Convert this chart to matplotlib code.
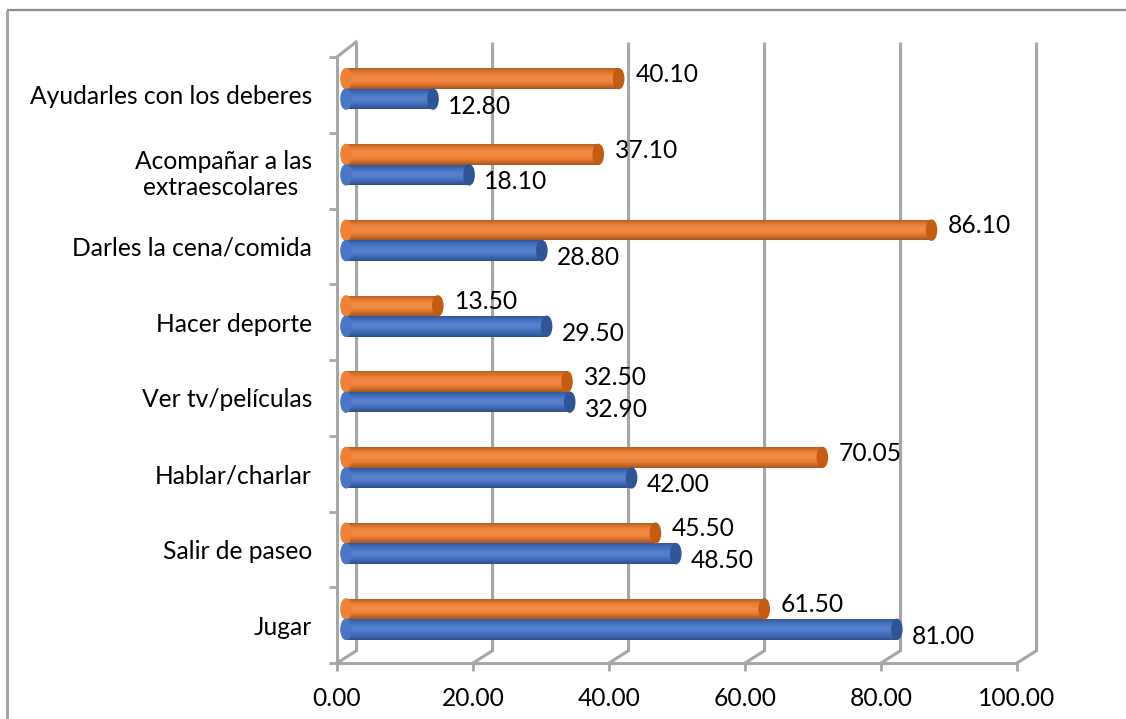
import matplotlib
matplotlib.use("Agg")
import matplotlib.pyplot as plt
from matplotlib.patches import Ellipse
import numpy as np

plt.rcParams['font.family'] = ['Lato', 'DejaVu Sans']

# ---------------- data ----------------
categories = ["Jugar", "Salir de paseo", "Hablar/charlar", "Ver tv/películas",
              "Hacer deporte", "Darles la cena/comida",
              "Acompañar a las\nextraescolares ", "Ayudarles con los deberes"]
serie_azul = [81.00, 48.50, 42.00, 32.90, 29.50, 28.80, 18.10, 12.80]
serie_naranja = [61.50, 45.50, 70.05, 32.50, 13.50, 86.10, 37.10, 40.10]
x_ticks = [0, 20, 40, 60, 80, 100]

W, H = 1126, 719
fig = plt.figure(figsize=(W / 100, H / 100), dpi=100)

def rect(x0, y0, x1, y1):
    return [x0 / W, 1 - y1 / H, (x1 - x0) / W, (y1 - y0) / H]

GRID = "#A6A6A6"
FS = 17.7

# ---------------- background frame (3D walls) ----------------
bg = fig.add_axes([0, 0, 1, 1], zorder=0)
bg.set_xlim(0, W)
bg.set_ylim(H, 0)
bg.axis("off")
# chart outer border (top & left)
bg.plot([7, W + 5], [10, 10], color="#8C8C8C", lw=1.6, solid_capstyle="butt")
bg.plot([7, 7], [10, H + 5], color="#A6A6A6", lw=2.2, solid_capstyle="butt")

fx0, fx1, fy_top, fy_bot = 337, 1017, 57, 663     # front plane
dx, dy = 19, -12                                  # depth offset
for v in x_ticks:
    xf = fx0 + (fx1 - fx0) * v / 100
    xb = xf + dx
    bg.plot([xb, xb], [fy_top + dy - 3, fy_bot + dy], color=GRID, lw=2.2,
            solid_capstyle="butt")
    bg.plot([xb, xf], [fy_bot + dy, fy_bot], color=GRID, lw=2.2)
# top-left diagonal
bg.plot([fx0, fx0 + dx], [fy_top, fy_top + dy - 3], color=GRID, lw=2.2)

# ---------------- front axes (labels, floor) ----------------
n = len(categories)
axf = fig.add_axes(rect(fx0, fy_top, fx1, fy_bot), zorder=1)
axf.patch.set_alpha(0)
axf.set_xlim(0, 100)
axf.set_ylim(-0.5, n - 0.5)
for s in ["top", "right"]:
    axf.spines[s].set_visible(False)
for s in ["left", "bottom"]:
    axf.spines[s].set_color(GRID)
    axf.spines[s].set_linewidth(2.2)
axf.set_xticks(x_ticks)
axf.set_xticklabels([f"{v:.2f}" for v in x_ticks], fontsize=FS)
axf.tick_params(axis="x", length=6, width=2, color=GRID, pad=11)
axf.set_yticks(range(n))
axf.set_yticklabels(categories, fontsize=FS, multialignment="center")
axf.set_yticks(np.arange(-0.5, n, 1.0), minor=True)
axf.tick_params(axis="y", which="major", length=0, pad=18)
axf.tick_params(axis="y", which="minor", length=6, width=2, color=GRID)

# ---------------- bars axes (mid depth) ----------------
bx0 = 346
axb = fig.add_axes(rect(bx0, fy_top - 6, bx0 + 680, fy_bot - 6), zorder=2)
axb.patch.set_alpha(0)
axb.set_xlim(0, 100)
axb.set_ylim(-0.5, n - 0.5)
axb.axis("off")

bar_h = 0.27
y = np.arange(n)

def shade(base, f):
    base = np.array(matplotlib.colors.to_rgb(base))
    if f >= 1:
        return tuple(np.clip(base + (1 - base) * (f - 1), 0, 1))
    return tuple(base * f)

def cylinder(ycent, vals, base, cap):
    nb = 20
    for k in range(nb):
        t = (k + 0.5) / nb          # 0 bottom -> 1 top
        f = 0.6 + 0.5 * np.sin(np.pi * (0.1 + 0.75 * t)) ** 1.5
        f = min(f, 1.12)
        axb.barh(ycent - bar_h / 2 + (k + 0.5) * bar_h / nb, vals,
                 height=bar_h / nb * 1.05, color=shade(base, f), lw=0)
    for yc, v in zip(ycent, vals):
        axb.add_patch(Ellipse((0, yc), 1.5, bar_h * 0.98, color=shade(base, 1.03),
                              clip_on=False, zorder=1))
        axb.add_patch(Ellipse((v, yc), 1.5, bar_h * 0.98, color=cap,
                              clip_on=False, zorder=3))

cylinder(y + bar_h / 2, serie_naranja, "#ED7D31", "#C55A11")
cylinder(y - bar_h / 2, serie_azul, "#4472C4", "#2F5597")

for yc, v in zip(y + bar_h / 2, serie_naranja):
    axb.annotate(f"{v:.2f}", (v, yc), xytext=(12, 3), textcoords="offset points",
                 ha="left", va="center", fontsize=FS, color="black")
for yc, v in zip(y - bar_h / 2, serie_azul):
    axb.annotate(f"{v:.2f}", (v, yc), xytext=(11, -5), textcoords="offset points",
                 ha="left", va="center", fontsize=FS, color="black")

fig.savefig("out.png", dpi=100)
